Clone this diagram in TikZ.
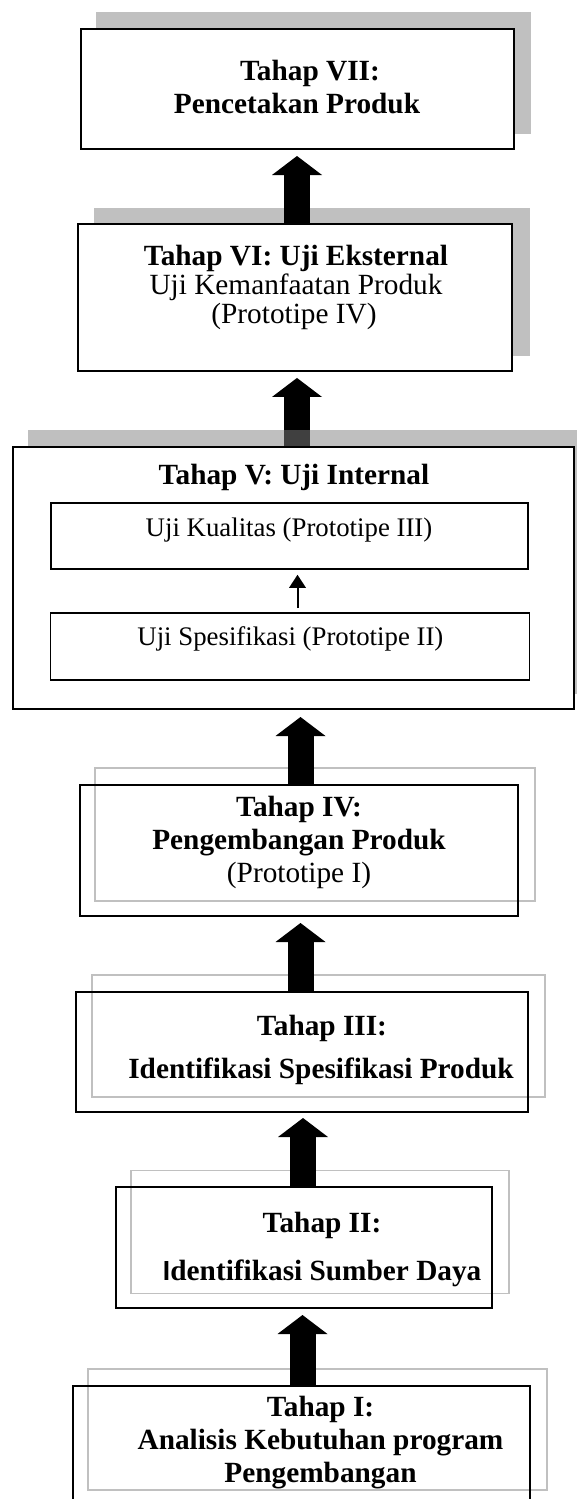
\documentclass[tikz,border=0pt]{standalone}
\usepackage{fontspec}
\setmainfont{Liberation Serif}
\newfontfamily\carlitofont{Carlito}
\usetikzlibrary{arrows.meta}
\pgfdeclarelayer{shadowlayer}
\pgfdeclarelayer{arrowlayer}
\pgfdeclarelayer{vshadowlayer}
\pgfsetlayers{shadowlayer,arrowlayer,vshadowlayer,main}
\definecolor{shadowgray}{RGB}{192,192,192}
\begin{document}
\begin{tikzpicture}[x=1pt,y=-1pt,
  wbox/.style={draw=black,line width=2pt,fill=white,inner sep=0pt},
  obox/.style={draw=black,line width=2pt,inner sep=0pt},
  ibox/.style={draw=black,line width=1.6pt,fill=white,inner sep=0pt},
  shadowfill/.style={fill=shadowgray,draw=none},
  grayline/.style={draw=shadowgray,line width=1.8pt},
  bigarrow/.style={line width=26pt,-{Triangle[width=50pt,length=19pt,line width=0pt]}},
  smallarrow/.style={line width=2pt,-{Triangle[width=17pt,length=13pt,line width=0pt]}},
  bt/.style={anchor=base,inner sep=0pt,font=\fontsize{29.3}{33}\selectfont\bfseries},
  rt/.style={anchor=base,inner sep=0pt,font=\fontsize{29.3}{33}\selectfont},
  st/.style={anchor=base,inner sep=0pt,font=\fontsize{26.8}{30}\selectfont}]
\useasboundingbox (0,0) rectangle (576,1499);
\clip (0,0) rectangle (576,1499);

% boxes
\node[wbox,minimum width=432.7pt,minimum height=120pt] (b7) at (297.2,89) {};
\node[wbox,minimum width=434pt,minimum height=146.7pt] (b6) at (295,297.6) {};
\node[wbox,minimum width=560.8pt,minimum height=262pt] (b5) at (293.3,578) {};
\node[ibox,minimum width=477pt,minimum height=66pt] (i1) at (289.25,536) {};
\node[ibox,minimum width=479pt,minimum height=67pt] (i2) at (290.15,646.5) {};
\node[obox,minimum width=438pt,minimum height=131pt] (b4) at (299,850.5) {};
\node[obox,minimum width=451.4pt,minimum height=120pt] (b3) at (302.1,1052) {};
\node[obox,minimum width=376pt,minimum height=121pt] (b2) at (304,1247.5) {};
\node[obox,minimum width=456.9pt,minimum height=119pt] (b1) at (301.15,1445.5) {};

% shadows and gray outlines
\begin{pgfonlayer}{shadowlayer}
\fill[shadowfill] ([shift={(16.5,-16.5)}]b7.south west) rectangle ([shift={(16.5,-16.5)}]b7.north east);
\fill[shadowfill] ([shift={(16.5,-15.5)}]b6.south west) rectangle ([shift={(16.5,-15.5)}]b6.north east);
\draw[grayline] ([shift={(16,-16)}]b4.south west) rectangle ([shift={(16,-16)}]b4.north east);
\draw[grayline] ([shift={(16.2,-16)}]b3.south west) rectangle ([shift={(16.2,-16)}]b3.north east);
\draw[grayline] ([shift={(16,-15.5)}]b2.south west) rectangle ([shift={(16,-15.5)}]b2.north east);
\draw[grayline] ([shift={(16.4,-16)}]b1.south west) rectangle ([shift={(16.4,-16)}]b1.north east);
\end{pgfonlayer}
\begin{pgfonlayer}{vshadowlayer}
\fill[fill=black!50,opacity=0.5] ([shift={(15.7,-16)}]b5.south west) rectangle ([shift={(15.7,-16)}]b5.north east);
\end{pgfonlayer}

% arrows
\begin{pgfonlayer}{arrowlayer}
\draw[bigarrow,shorten >=6pt] (297,0 |- b6.north) -- (297,0 |- b7.south);
\draw[bigarrow,shorten >=6pt] (297,0 |- b5.north) -- (297,0 |- b6.south);
\draw[bigarrow,shorten >=7pt] (300.5,0 |- b4.north) -- (300.5,0 |- b5.south);
\draw[bigarrow,shorten >=6pt] (300.5,0 |- b3.north) -- (300.5,0 |- b4.south);
\draw[bigarrow,shorten >=5pt] (303,0 |- b2.north) -- (303,0 |- b3.south);
\draw[bigarrow,shorten >=6pt] (302.5,0 |- b1.north) -- (302.5,0 |- b2.south);
\end{pgfonlayer}
\draw[smallarrow,shorten <=4pt,shorten >=5pt] (297.5,0 |- i2.north) -- (297.5,0 |- i1.south);

% texts
\node[bt] (t7a) at (310,80) {Tahap VII:};
\node[bt] (t7b) at (297,113) {Pencetakan Produk};

\node[bt] (t6a) at (296,265) {Tahap VI: Uji Eksternal};
\node[rt] (t6b) at (296,294) {Uji Kemanfaatan Produk};
\node[rt] (t6c) at (294,323) {(Prototipe IV)};

\node[bt] (t5a) at (294,484) {Tahap V: Uji Internal};
\node[st] (t5b) at (289,536) {Uji Kualitas (Prototipe III)};
\node[st] (t5c) at (290.4,645) {Uji Spesifikasi (Prototipe II)};

\node[bt] (t4a) at (299,816) {Tahap IV:};
\node[bt] (t4b) at (299,849) {Pengembangan Produk};
\node[rt] (t4c) at (299,882) {(Prototipe I)};

\node[bt] (t3a) at (322,1035) {Tahap III:};
\node[bt] (t3b) at (321,1078) {Identifikasi Spesifikasi Produk};

\node[bt] (t2a) at (322,1232) {Tahap II:};
\node[bt] (t2b) at (322,1280) {{\carlitofont I}dentifikasi Sumber Daya};

\node[bt] (t1a) at (320.6,1416) {Tahap I:};
\node[bt] (t1b) at (320.5,1449) {Analisis Kebutuhan program};
\node[bt] (t1c) at (320.5,1482) {Pengembangan};
\end{tikzpicture}
\end{document}
